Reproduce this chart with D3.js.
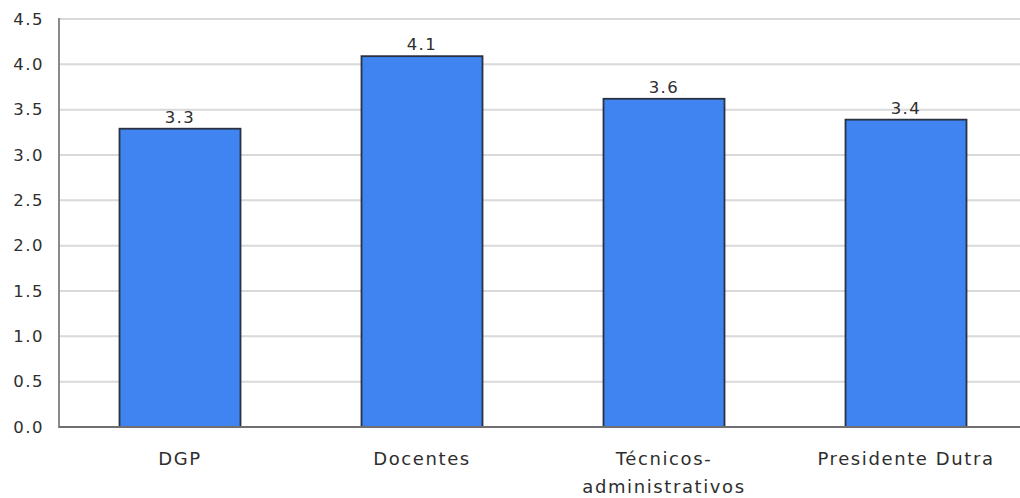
<!DOCTYPE html>
<html lang="pt">
<head>
  <meta charset="utf-8" />
  <title>Bar chart</title>
  <style>
    html,body{margin:0;background:#fff;}
    svg{display:block;}
    text{font-family:"DejaVu Sans",Verdana,sans-serif;fill:#2e2e2e;}
  </style>
</head>
<body>
  <svg id="chart" width="1020" height="498"></svg>
  <script src="https://d3js.org/d3.v7.min.js"></script>
  <script>
    // ---- data ----
    const categories = ['DGP', 'Docentes', 'Técnicos-|administrativos', 'Presidente Dutra'];
    const values     = [3.29, 4.09, 3.62, 3.39];
    const yTicks     = [0, 0.5, 1, 1.5, 2, 2.5, 3, 3.5, 4, 4.5];

    const svg = d3.select('#chart');
    const m = {top:19, left:59, bottom:71, right:-7};
    const W = 1020, H = 498;

    const x = d3.scaleBand().domain(categories).range([m.left, W - m.right]).paddingInner(0.5).paddingOuter(0.25);
    const y = d3.scaleLinear().domain([0, 4.5]).range([H - m.bottom, m.top]);

    // gridlines
    svg.append('g').selectAll('line').data(yTicks.filter(d => d > 0)).join('line')
      .attr('x1', m.left).attr('x2', W)
      .attr('y1', d => y(d)).attr('y2', d => y(d))
      .attr('stroke', '#d9d9d9').attr('stroke-width', 2);

    // y tick labels
    const yAxis = d3.axisLeft(y).tickValues(yTicks).tickFormat(d3.format('.1f')).tickSize(0).tickPadding(15);
    const ya = svg.append('g').attr('transform', `translate(${m.left},0)`).call(yAxis);
    ya.select('.domain').remove();
    ya.selectAll('text').style('font-size', '16.5px').style('letter-spacing', '1.5px').attr('fill', '#2e2e2e');

    // bars
    svg.append('g').selectAll('rect').data(values).join('rect')
      .attr('x', (d, i) => x(categories[i]))
      .attr('width', x.bandwidth())
      .attr('y', d => y(d))
      .attr('height', d => y(0) - y(d))
      .attr('fill', '#3f84f0')
      .attr('stroke', '#2a3140').attr('stroke-width', 1.8);

    // value labels
    svg.append('g').selectAll('text').data(values).join('text')
      .attr('x', (d, i) => x(categories[i]) + x.bandwidth() / 2)
      .attr('y', d => y(d) - 6)
      .attr('text-anchor', 'middle')
      .style('font-size', '16.5px').style('letter-spacing', '1.5px')
      .text(d => d3.format('.1f')(d));

    // axis lines
    svg.append('line').attr('x1', m.left).attr('x2', m.left).attr('y1', m.top - 1).attr('y2', y(0) + 1)
      .attr('stroke', '#8a8a8a').attr('stroke-width', 2);
    svg.append('line').attr('x1', m.left).attr('x2', W).attr('y1', y(0)).attr('y2', y(0))
      .attr('stroke', '#6f6f6f').attr('stroke-width', 2);

    // category labels
    const xa = svg.append('g');
    categories.forEach(c => {
      const t = xa.append('text')
        .attr('x', x(c) + x.bandwidth() / 2).attr('y', y(0) + 38)
        .attr('text-anchor', 'middle')
        .style('font-size', '18px').style('letter-spacing', '1.6px');
      c.split('|').forEach((s, k) => {
        t.append('tspan').attr('x', x(c) + x.bandwidth() / 2).attr('dy', k ? 28 : 0).text(s);
      });
    });
  </script>
</body>
</html>
